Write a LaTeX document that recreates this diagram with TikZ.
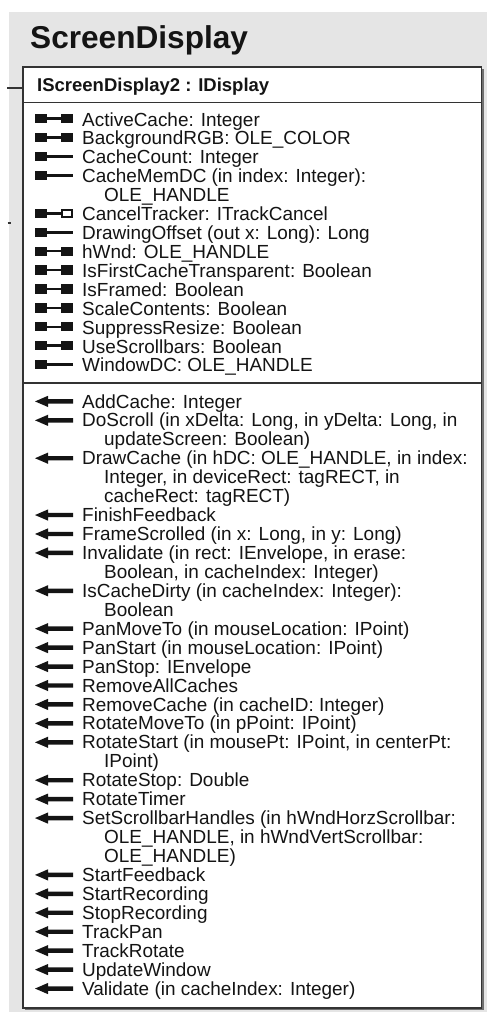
\documentclass[tikz,border=0pt]{standalone}
\usepackage{fontspec}
\setmainfont{Liberation Sans}
\definecolor{panel}{HTML}{E5E5E5}
\definecolor{ink}{HTML}{141414}
\definecolor{frame}{HTML}{333333}
\newcommand\pY[1]{126+18.92*(#1)}
\newcommand\mY[1]{408+18.94*(#1)}
\newcommand\umlprop[4]{%
  \pic at (35,{\pY{#2}-7.3}) {#3};
  \node[member] (#1) at (82,{\pY{#2}}) {#4};}
\newcommand\umlpropcont[3]{%
  \node[member] (#1) at (104,{\pY{#2}}) {#3};}
\newcommand\umlmeth[3]{%
  \pic at (35,{\mY{#2}-6.6}) {meth};
  \node[member] (#1) at (82,{\mY{#2}}) {#3};}
\newcommand\umlmethcont[3]{%
  \node[member] (#1) at (104,{\mY{#2}}) {#3};}
\tikzset{
  member/.style={anchor=base west, inner sep=0pt, text=ink,
    font=\fontsize{18.95}{19}\selectfont},
  pics/rw/.style={code={
    \fill[ink] (0,-4.6) rectangle (12,4.6);
    \fill[ink] (26,-4.6) rectangle (38,4.6);
    \draw[ink,line width=2.6pt] (11,0) -- (27,0);}},
  pics/ro/.style={code={
    \fill[ink] (0,-4.6) rectangle (12,4.6);
    \draw[ink,line width=2.6pt] (11,0) -- (38,0);}},
  pics/refp/.style={code={
    \fill[ink] (0,-4.6) rectangle (12,4.6);
    \draw[ink,line width=2.6pt] (11,0) -- (27,0);
    \draw[ink,line width=2pt] (27,-3.6) rectangle (37,3.6);}},
  pics/meth/.style={code={
    \fill[ink] (0,0) -- (13,-5.6) -- (13,-2.2) -- (38,-2.2) -- (38,2.2)
      -- (13,2.2) -- (13,5.6) -- cycle;}},
}
\begin{document}
\begin{tikzpicture}[x=1pt,y=-1pt]
\useasboundingbox (0,0) rectangle (487,1012);
\fill[panel] (9,12) rectangle (487,1012);
% shadow and box
\fill[frame!70] (25,69) rectangle (483.5,1010);
\filldraw[fill=white,draw=frame,line width=1.7pt] (23,67) rectangle (481.5,1008);
\draw[frame,line width=1.7pt] (23,102.5) -- (481.5,102.5);
\draw[frame,line width=1.7pt] (23,383) -- (481.5,383);
% left connector stubs
\draw[frame,line width=1.4pt] (7,88) -- (23,88);
\draw[frame,line width=1.4pt] (7.5,223) -- (11,223);
% title and header
\node[anchor=base west, inner sep=0pt, text=ink,
  font=\bfseries\fontsize{31.6}{33}\selectfont] (title) at (30,48.5) {ScreenDisplay};
\node[anchor=base west, inner sep=0pt, text=ink,
  font=\bfseries\fontsize{18.5}{19}\selectfont] (hdr) at (37,91) {IScreenDisplay2 : IDisplay};
% properties
\umlprop{p1}{0}{rw}{ActiveCache: Integer}
\umlprop{p2}{1}{rw}{BackgroundRGB: OLE\_COLOR}
\umlprop{p3}{2}{ro}{CacheCount: Integer}
\umlprop{p4}{3}{ro}{CacheMemDC (in index: Integer):}
\umlpropcont{p4b}{4}{OLE\_HANDLE}
\umlprop{p5}{5}{refp}{CancelTracker: ITrackCancel}
\umlprop{p6}{6}{ro}{DrawingOffset (out x: Long): Long}
\umlprop{p7}{7}{rw}{hWnd: OLE\_HANDLE}
\umlprop{p8}{8}{rw}{IsFirstCacheTransparent: Boolean}
\umlprop{p9}{9}{rw}{IsFramed: Boolean}
\umlprop{p10}{10}{rw}{ScaleContents: Boolean}
\umlprop{p11}{11}{rw}{SuppressResize: Boolean}
\umlprop{p12}{12}{rw}{UseScrollbars: Boolean}
\umlprop{p13}{13}{ro}{WindowDC: OLE\_HANDLE}
% methods
\umlmeth{m1}{0}{AddCache: Integer}
\umlmeth{m2}{1}{DoScroll (in xDelta: Long, in yDelta: Long, in}
\umlmethcont{m2b}{2}{updateScreen: Boolean)}
\umlmeth{m3}{3}{DrawCache (in hDC: OLE\_HANDLE, in index:}
\umlmethcont{m3b}{4}{Integer, in deviceRect: tagRECT, in}
\umlmethcont{m3c}{5}{cacheRect: tagRECT)}
\umlmeth{m4}{6}{FinishFeedback}
\umlmeth{m5}{7}{FrameScrolled (in x: Long, in y: Long)}
\umlmeth{m6}{8}{Invalidate (in rect: IEnvelope, in erase:}
\umlmethcont{m6b}{9}{Boolean, in cacheIndex: Integer)}
\umlmeth{m7}{10}{IsCacheDirty (in cacheIndex: Integer):}
\umlmethcont{m7b}{11}{Boolean}
\umlmeth{m8}{12}{PanMoveTo (in mouseLocation: IPoint)}
\umlmeth{m9}{13}{PanStart (in mouseLocation: IPoint)}
\umlmeth{m10}{14}{PanStop: IEnvelope}
\umlmeth{m11}{15}{RemoveAllCaches}
\umlmeth{m12}{16}{RemoveCache (in cacheID: Integer)}
\umlmeth{m13}{17}{RotateMoveTo (in pPoint: IPoint)}
\umlmeth{m14}{18}{RotateStart (in mousePt: IPoint, in centerPt:}
\umlmethcont{m14b}{19}{IPoint)}
\umlmeth{m15}{20}{RotateStop: Double}
\umlmeth{m16}{21}{RotateTimer}
\umlmeth{m17}{22}{SetScrollbarHandles (in hWndHorzScrollbar:}
\umlmethcont{m17b}{23}{OLE\_HANDLE, in hWndVertScrollbar:}
\umlmethcont{m17c}{24}{OLE\_HANDLE)}
\umlmeth{m18}{25}{StartFeedback}
\umlmeth{m19}{26}{StartRecording}
\umlmeth{m20}{27}{StopRecording}
\umlmeth{m21}{28}{TrackPan}
\umlmeth{m22}{29}{TrackRotate}
\umlmeth{m23}{30}{UpdateWindow}
\umlmeth{m24}{31}{Validate (in cacheIndex: Integer)}
\end{tikzpicture}
\end{document}
